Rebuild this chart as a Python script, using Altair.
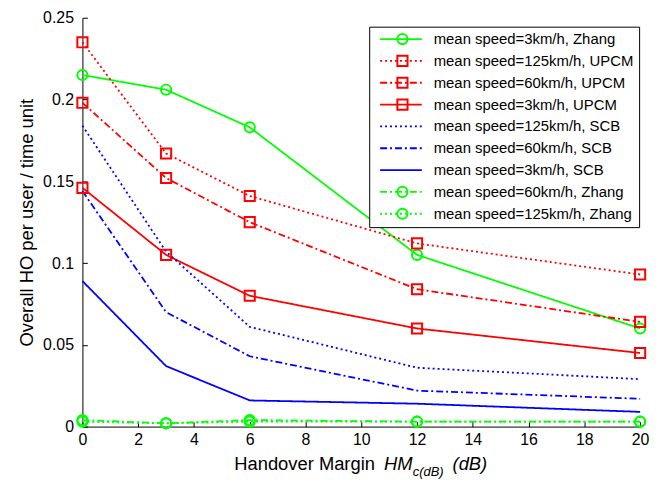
import altair as alt
import pandas as pd

# ---- data ----
hm = [0, 3, 6, 12, 20]
series_names = [
    "mean speed=3km/h, Zhang",
    "mean speed=125km/h, UPCM",
    "mean speed=60km/h, UPCM",
    "mean speed=3km/h, UPCM",
    "mean speed=125km/h, SCB",
    "mean speed=60km/h, SCB",
    "mean speed=3km/h, SCB",
    "mean speed=60km/h, Zhang",
    "mean speed=125km/h, Zhang",
]
zhang_3 = [0.215, 0.206, 0.183, 0.105, 0.060]
upcm_125 = [0.235, 0.167, 0.141, 0.112, 0.093]
upcm_60 = [0.198, 0.152, 0.125, 0.084, 0.064]
upcm_3 = [0.146, 0.105, 0.080, 0.060, 0.045]
scb_125 = [0.184, 0.107, 0.061, 0.036, 0.029]
scb_60 = [0.144, 0.070, 0.043, 0.022, 0.017]
scb_3 = [0.089, 0.037, 0.016, 0.014, 0.009]
zhang_60 = [0.004, 0.002, 0.004, 0.003, 0.003]
zhang_125 = [0.003, 0.002, 0.003, 0.003, 0.003]
series_values = [zhang_3, upcm_125, upcm_60, upcm_3, scb_125, scb_60, scb_3, zhang_60, zhang_125]
has_marker = [True, True, True, True, False, False, False, True, True]

x_ticks = [0, 2, 4, 6, 8, 10, 12, 14, 16, 18, 20]
y_ticks = [0, 0.05, 0.1, 0.15, 0.2, 0.25]
x_title_parts = ["Handover Margin", "HM", "c(dB)", "(dB)"]
y_title = "Overall HO per user / time unit"

# ---- styles ----
colors = ["#00ff00", "#ff0000", "#ff0000", "#ff0000", "#0000ff", "#0000ff", "#0000ff", "#00ff00", "#00ff00"]
solid, dotted, dashdot = [1, 0], [2, 3], [7, 3, 2, 3]
dashes = [solid, dotted, dashdot, solid, dotted, dashdot, solid, dashdot, dotted]
shapes = ["circle", "square", "square", "square", "M0,0", "M0,0", "M0,0", "circle", "circle"]

# marker keys: a separate domain so the marker legend is not merged with the line legend
marker_keys = [n + " (marker)" for n in series_names]

rows = []
for name, key, vals, mk in zip(series_names, marker_keys, series_values, has_marker):
    for x, v in zip(hm, vals):
        rows.append({"hm": x, "v": v, "series": name, "marker": key, "mk": mk})
df = pd.DataFrame(rows)
df_pts = df[df["mk"]]

FONT = "Liberation Sans"
xs = alt.Scale(domain=[0, 20], nice=False, zero=False)
ys = alt.Scale(domain=[0, 0.25], nice=False)

x_axis_main = alt.Axis(values=x_ticks, format="d", ticks=False, tickSize=0, labelPadding=5,
                       labelFont=FONT, labelFontSize=16, labelColor="black", domainColor="black",
                       domainWidth=1, grid=False, title=None, labelFlush=False, orient="bottom")
y_axis_main = alt.Axis(values=y_ticks, format="~g", ticks=False, tickSize=0, labelPadding=9,
                       labelFont=FONT, labelFontSize=16, labelColor="black", domainColor="black",
                       domainWidth=1, grid=False, title=y_title, titleFont=FONT, titleFontSize=18.5,
                       titleFontWeight="normal", titleColor="black", titlePadding=6,
                       labelFlush=False, orient="left")
x_axis_ticks = alt.Axis(values=x_ticks, labels=False, domain=False, ticks=True, tickSize=5,
                        tickColor="black", tickWidth=1, offset=-5, grid=False, title=None, orient="bottom")
y_axis_ticks = alt.Axis(values=y_ticks, labels=False, domain=False, ticks=True, tickSize=5,
                        tickColor="black", tickWidth=1, offset=-5, grid=False, title=None, orient="left")

leg_common = dict(title=None, orient="none", legendX=289, legendY=9, labelFont=FONT,
                  labelFontSize=15, clipHeight=15, rowPadding=6, padding=5, labelLimit=0)
leg_lines = alt.Legend(symbolType="stroke", symbolSize=1764, symbolStrokeWidth=1.8,
                       labelColor="black", strokeColor="black", fillColor="white",
                       symbolOffset=5, labelOffset=11, zindex=1, **leg_common)
leg_pts = alt.Legend(symbolSize=105, symbolStrokeWidth=2, labelColor="transparent",
                     symbolOffset=21, labelOffset=0, zindex=2, labelExpr="''", **leg_common)

lines = alt.Chart(df).mark_line(strokeWidth=1.8).encode(
    x=alt.X("hm:Q", scale=xs, axis=x_axis_main),
    y=alt.Y("v:Q", scale=ys, axis=y_axis_main),
    color=alt.Color("series:N", scale=alt.Scale(domain=series_names, range=colors), legend=leg_lines),
    strokeDash=alt.StrokeDash("series:N", scale=alt.Scale(domain=series_names, range=dashes), legend=leg_lines),
)

points = alt.Chart(df_pts).mark_point(filled=False, strokeWidth=2, size=105, opacity=1).encode(
    x=alt.X("hm:Q", scale=xs, axis=x_axis_ticks),
    y=alt.Y("v:Q", scale=ys, axis=y_axis_ticks),
    stroke=alt.Stroke("marker:N", scale=alt.Scale(domain=marker_keys, range=colors), legend=leg_pts),
    shape=alt.Shape("marker:N", scale=alt.Scale(domain=marker_keys, range=shapes), legend=leg_pts),
)


def title_piece(text, x, y, size):
    italic = text != x_title_parts[0]
    return alt.Chart(pd.DataFrame({"t": [text]})).mark_text(
        align="left", baseline="middle", font=FONT, fontSize=size,
        fontStyle="italic" if italic else "normal", color="black",
    ).encode(x=alt.value(x), y=alt.value(y), text="t:N")


t1 = title_piece(x_title_parts[0], 153, 450, 18.5)
t2 = title_piece(x_title_parts[1], 304, 450, 18.5)
t3 = title_piece(x_title_parts[2], 333, 458, 13)
t4 = title_piece(x_title_parts[3], 373, 450, 18.5)

chart = alt.layer(lines, points, t1, t2, t3, t4).resolve_axis(
    x="independent", y="independent"
).properties(
    width=562, height=412,
    autosize=alt.AutoSizeParams(type="none"),
    padding={"left": 75, "top": 8, "right": 14, "bottom": 54},
    background="white",
).configure_view(stroke=None)

chart.save("out.html", embed_options={"renderer": "svg", "actions": False})
